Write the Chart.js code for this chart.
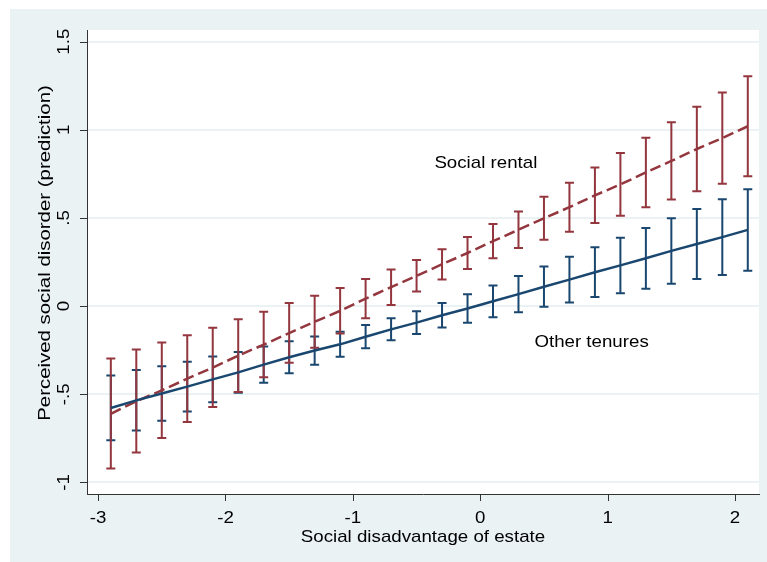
<!DOCTYPE html>
<html>
<head>
<meta charset="utf-8">
<title>Perceived social disorder</title>
<script src="https://cdn.jsdelivr.net/npm/chart.js@4.4.0/dist/chart.umd.min.js"></script>
<style>
  html, body { margin: 0; padding: 0; background: #fff; }
  #wrap { width: 767px; height: 562px; }
</style>
</head>
<body>
<div id="wrap"><canvas id="chart" width="767" height="562"></canvas></div>
<script>
// values
const xValues = [-2.9, -2.7, -2.5, -2.3, -2.1, -1.9, -1.7, -1.5, -1.3, -1.1, -0.9, -0.7, -0.5,
  -0.3, -0.1, 0.1, 0.3, 0.5, 0.7, 0.9, 1.1, 1.3, 1.5, 1.7, 1.9, 2.1];

const rentalFit = [-0.611, -0.540, -0.478, -0.412, -0.349, -0.281, -0.219, -0.153, -0.089, -0.027, 0.042, 0.107, 0.171,
  0.237, 0.301, 0.368, 0.433, 0.498, 0.561, 0.628, 0.690, 0.758, 0.823, 0.891, 0.953, 1.020];
const rentalHigh = [-0.298, -0.247, -0.206, -0.166, -0.123, -0.075, -0.032, 0.017, 0.059, 0.102, 0.153, 0.208, 0.261,
  0.322, 0.392, 0.465, 0.537, 0.620, 0.700, 0.786, 0.869, 0.955, 1.043, 1.131, 1.212, 1.304];
const rentalLow = [-0.922, -0.831, -0.748, -0.658, -0.572, -0.487, -0.404, -0.321, -0.236, -0.155, -0.069, 0.006, 0.082,
  0.151, 0.210, 0.271, 0.329, 0.376, 0.422, 0.471, 0.512, 0.561, 0.604, 0.651, 0.694, 0.737];

const otherFit = [-0.578, -0.535, -0.496, -0.457, -0.416, -0.376, -0.332, -0.290, -0.252, -0.217, -0.174, -0.132, -0.094,
  -0.052, -0.014, 0.027, 0.068, 0.110, 0.150, 0.192, 0.231, 0.271, 0.313, 0.352, 0.391, 0.432];
const otherHigh = [-0.394, -0.362, -0.341, -0.316, -0.286, -0.261, -0.229, -0.199, -0.172, -0.145, -0.108, -0.069, -0.029,
  0.018, 0.067, 0.116, 0.171, 0.224, 0.280, 0.333, 0.388, 0.443, 0.498, 0.551, 0.606, 0.663];
const otherLow = [-0.761, -0.706, -0.651, -0.598, -0.545, -0.491, -0.435, -0.381, -0.333, -0.288, -0.239, -0.194, -0.159,
  -0.122, -0.094, -0.063, -0.035, -0.004, 0.020, 0.051, 0.073, 0.098, 0.127, 0.153, 0.176, 0.200];

const xTicks = [-3, -2, -1, 0, 1, 2];
const xTickLabels = ["-3", "-2", "-1", "0", "1", "2"];
const yTicks = [-1, -0.5, 0, 0.5, 1, 1.5];
const yTickLabels = ["-1", "-.5", "0", ".5", "1", "1.5"];

const xTitle = "Social disadvantage of estate";
const yTitle = "Perceived social disorder (prediction)";
const seriesNames = ["Social rental", "Other tenures"];
// where the series names sit, in data units (left edge, baseline)
const nameX = [-0.36, 0.425];
const nameY = [0.782, -0.232];

const RED = "#93363e";
const BLUE = "#1a476f";
const PANEL = "#eaf2f3";
const FONT = '"Liberation Sans", Arial, sans-serif';

function stretchText(ctx, text, x, y, angle, sx, align) {
  ctx.save();
  ctx.translate(x, y);
  ctx.rotate(angle);
  ctx.scale(sx, 1);
  ctx.textAlign = align;
  ctx.textBaseline = "alphabetic";
  ctx.fillText(text, 0, 0);
  ctx.restore();
}

function drawBars(ctx, xs, lows, highs, color, sc) {
  ctx.save();
  ctx.strokeStyle = color;
  ctx.lineWidth = 2;
  xs.forEach((x, i) => {
    const px = sc.x.getPixelForValue(x);
    const top = sc.y.getPixelForValue(highs[i]);
    const bot = sc.y.getPixelForValue(lows[i]);
    ctx.beginPath();
    ctx.moveTo(px, top);
    ctx.lineTo(px, bot);
    ctx.moveTo(px - 4.5, top);
    ctx.lineTo(px + 4.5, top);
    ctx.moveTo(px - 4.5, bot);
    ctx.lineTo(px + 4.5, bot);
    ctx.stroke();
  });
  ctx.restore();
}

const stataLook = {
  id: "stataLook",
  beforeDraw(chart) {
    const ctx = chart.ctx;
    const a = chart.chartArea;
    ctx.save();
    ctx.fillStyle = "#fff";
    ctx.fillRect(0, 0, chart.width, chart.height);
    ctx.fillStyle = PANEL;
    ctx.fillRect(10, 9, chart.width - 10, chart.height - 9);
    ctx.fillStyle = "#fff";
    ctx.fillRect(a.left, a.top, a.right - a.left, a.bottom - a.top);
    ctx.restore();
  },
  beforeDatasetsDraw(chart) {
    const sc = chart.scales;
    drawBars(chart.ctx, xValues, otherLow, otherHigh, BLUE, sc);
    drawBars(chart.ctx, xValues, rentalLow, rentalHigh, RED, sc);
  },
  afterDraw(chart) {
    const ctx = chart.ctx;
    const a = chart.chartArea;
    const sc = chart.scales;
    ctx.save();
    // tick marks
    ctx.strokeStyle = "#333";
    ctx.lineWidth = 1;
    ctx.beginPath();
    xTicks.forEach(v => {
      const px = Math.round(sc.x.getPixelForValue(v)) + 0.5;
      ctx.moveTo(px, a.bottom);
      ctx.lineTo(px, a.bottom + 7);
    });
    yTicks.forEach(v => {
      const py = Math.round(sc.y.getPixelForValue(v)) + 0.5;
      ctx.moveTo(a.left, py);
      ctx.lineTo(a.left - 7, py);
    });
    ctx.stroke();

    ctx.fillStyle = "#000";
    ctx.font = "17px " + FONT;
    xTicks.forEach((v, i) => {
      stretchText(ctx, xTickLabels[i], sc.x.getPixelForValue(v), a.bottom + 29, 0, 1.1, "center");
    });
    yTicks.forEach((v, i) => {
      stretchText(ctx, yTickLabels[i], a.left - 18, sc.y.getPixelForValue(v), -Math.PI / 2, 1.1, "center");
    });
    stretchText(ctx, xTitle, (a.left + a.right) / 2, a.bottom + 47.5, 0, 1.1, "center");
    stretchText(ctx, yTitle, a.left - 37, 253, -Math.PI / 2, 1.2, "center");

    seriesNames.forEach((name, i) => {
      stretchText(ctx, name, sc.x.getPixelForValue(nameX[i]), sc.y.getPixelForValue(nameY[i]), 0, 1.1, "left");
    });
    ctx.restore();
  }
};

new Chart(document.getElementById("chart"), {
  type: "scatter",
  data: {
    datasets: [
      {
        label: seriesNames[1],
        data: xValues.map((x, i) => ({ x: x, y: otherFit[i] })),
        showLine: true,
        borderColor: BLUE,
        borderWidth: 2.5,
        pointRadius: 0,
        fill: false
      },
      {
        label: seriesNames[0],
        data: xValues.map((x, i) => ({ x: x, y: rentalFit[i] })),
        showLine: true,
        borderColor: RED,
        borderWidth: 2.5,
        borderDash: [11, 5],
        pointRadius: 0,
        fill: false
      }
    ]
  },
  options: {
    responsive: false,
    devicePixelRatio: 1,
    animation: false,
    layout: { padding: { left: 87, top: 30, right: 8, bottom: 68 } },
    plugins: { legend: { display: false }, tooltip: { enabled: false } },
    scales: {
      x: {
        type: "linear",
        min: -3.087,
        max: 2.188,
        afterBuildTicks: s => { s.ticks = xTicks.map(v => ({ value: v })); },
        afterFit: s => { s.height = 0; },
        ticks: { display: false },
        grid: { drawOnChartArea: false, drawTicks: false },
        border: { display: true, color: "#333", width: 1 }
      },
      y: {
        type: "linear",
        min: -1.066,
        max: 1.566,
        afterBuildTicks: s => { s.ticks = yTicks.map(v => ({ value: v })); },
        afterFit: s => { s.width = 0; },
        ticks: { display: false },
        grid: { color: PANEL, lineWidth: 2, drawTicks: false },
        border: { display: true, color: "#333", width: 1 }
      }
    }
  },
  plugins: [stataLook]
});
</script>
</body>
</html>
